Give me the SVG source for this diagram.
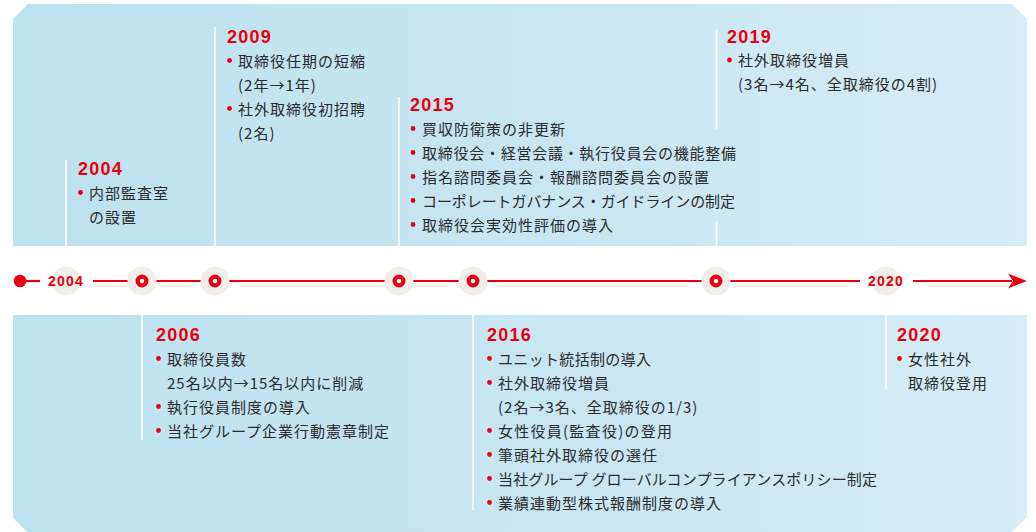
<svg xmlns="http://www.w3.org/2000/svg" width="1036" height="532" viewBox="0 0 1036 532">
<defs>
<linearGradient id="band" x1="0" y1="0" x2="1" y2="0">
<stop offset="0" stop-color="#bce2ee"/>
<stop offset="0.5" stop-color="#c6e6f1"/>
<stop offset="1" stop-color="#d6edf5"/>
</linearGradient>
<style>
.sep{stroke:#ffffff;stroke-width:1.6;fill:none}
.yr{font-family:"Liberation Sans",Arial,sans-serif;font-weight:bold;font-size:18px;fill:#e60012;letter-spacing:1.2px}
.ax{font-family:"Liberation Sans",Arial,sans-serif;font-weight:bold;font-size:14px;fill:#e60012;letter-spacing:1.2px;text-anchor:middle}
.tx{font-family:"Noto Sans CJK JP","Noto Sans CJK SC",sans-serif;font-size:15px;fill:#2b2b2b;letter-spacing:1px}
.bl{fill:#e60012}
.halo{fill:#f2efe9}
.ring{fill:#ffffff;stroke:#e60012;stroke-width:4.2}
.axis{stroke:#e60012;stroke-width:2.2;fill:none}
</style>
</defs>

<!-- bands -->
<path d="M13 19 L28 4 L1012 4 L1027 19 L1027 246 L13 246 Z" fill="url(#band)"/>
<path d="M13 315 L1027 315 L1027 517 L1012 532 L27 532 L13 518 Z" fill="url(#band)"/>

<!-- separators -->
<g id="separators">
<line class="sep" x1="66" y1="160" x2="66" y2="246"/>
<line class="sep" x1="215" y1="27" x2="215" y2="246"/>
<line class="sep" x1="399" y1="97" x2="399" y2="246"/>
<line class="sep" x1="716.5" y1="30" x2="716.5" y2="129"/>
<line class="sep" x1="716.5" y1="222" x2="716.5" y2="246"/>
<line class="sep" x1="142" y1="315" x2="142" y2="440"/>
<line class="sep" x1="473" y1="315" x2="473" y2="510"/>
<line class="sep" x1="886" y1="315" x2="886" y2="389"/>
</g>

<!-- timeline axis -->
<g id="connectors">
<line class="axis" x1="20" y1="281" x2="40" y2="281"/>
<line class="axis" x1="93" y1="281" x2="860" y2="281"/>
<line class="axis" x1="913" y1="281" x2="1012" y2="281"/>
<polygon points="1027,281 1008,273.5 1013,281 1008,288.5" fill="#e60012"/>
</g>

<g id="markers">
<circle class="halo" cx="66" cy="281" r="14.5"/>
<circle class="halo" cx="142" cy="281" r="14.5"/>
<circle class="halo" cx="215" cy="281" r="14.5"/>
<circle class="halo" cx="399" cy="281" r="14.5"/>
<circle class="halo" cx="473" cy="281" r="14.5"/>
<circle class="halo" cx="716" cy="281" r="14.5"/>
<circle class="halo" cx="886" cy="281" r="14.5"/>
<circle cx="20" cy="281" r="6.3" fill="#e60012"/>
<circle class="ring" cx="142" cy="281" r="4.4"/>
<circle class="ring" cx="215" cy="281" r="4.4"/>
<circle class="ring" cx="399" cy="281" r="4.4"/>
<circle class="ring" cx="473" cy="281" r="4.4"/>
<circle class="ring" cx="716" cy="281" r="4.4"/>
<text class="ax" x="66" y="286">2004</text>
<text class="ax" x="886" y="286">2020</text>
</g>

<!-- 2004 -->
<g id="n2004">
<text class="yr" x="78" y="174.5">2004</text>
<circle class="bl" cx="80.5" cy="192.5" r="2.4"/>
<text class="tx" x="89" y="198.5">内部監査室</text>
<text class="tx" x="89" y="222.5">の設置</text>
</g>

<!-- 2009 -->
<g id="n2009">
<text class="yr" x="227" y="42.5">2009</text>
<circle class="bl" cx="229.5" cy="60.5" r="2.4"/>
<text class="tx" x="238" y="66.5">取締役任期の短縮</text>
<text class="tx" x="238" y="90.5">(2年→1年)</text>
<circle class="bl" cx="229.5" cy="108.5" r="2.4"/>
<text class="tx" x="238" y="114.5">社外取締役初招聘</text>
<text class="tx" x="238" y="138.5">(2名)</text>
</g>

<!-- 2015 -->
<g id="n2015">
<text class="yr" x="410" y="110.5">2015</text>
<circle class="bl" cx="413" cy="128.5" r="2.4"/>
<text class="tx" x="422" y="134.5">買収防衛策の非更新</text>
<circle class="bl" cx="413" cy="152.5" r="2.4"/>
<text class="tx" x="422" y="158.5" textLength="315" lengthAdjust="spacing">取締役会・経営会議・執行役員会の機能整備</text>
<circle class="bl" cx="413" cy="176.5" r="2.4"/>
<text class="tx" x="422" y="182.5">指名諮問委員会・報酬諮問委員会の設置</text>
<circle class="bl" cx="413" cy="200.5" r="2.4"/>
<text class="tx" x="422" y="206.5" textLength="314" lengthAdjust="spacing">コーポレートガバナンス・ガイドラインの制定</text>
<circle class="bl" cx="413" cy="224.5" r="2.4"/>
<text class="tx" x="422" y="230.5">取締役会実効性評価の導入</text>
</g>

<!-- 2019 -->
<g id="n2019">
<text class="yr" x="727" y="42.5">2019</text>
<circle class="bl" cx="729.5" cy="60" r="2.4"/>
<text class="tx" x="738" y="66">社外取締役増員</text>
<text class="tx" x="738" y="90">(3名→4名、全取締役の4割)</text>
</g>

<!-- 2006 -->
<g id="n2006">
<text class="yr" x="156" y="340.5">2006</text>
<circle class="bl" cx="158.5" cy="358.5" r="2.4"/>
<text class="tx" x="167" y="364.5">取締役員数</text>
<text class="tx" x="167" y="388.5">25名以内→15名以内に削減</text>
<circle class="bl" cx="158.5" cy="406.5" r="2.4"/>
<text class="tx" x="167" y="412.5">執行役員制度の導入</text>
<circle class="bl" cx="158.5" cy="430.5" r="2.4"/>
<text class="tx" x="167" y="436.5">当社グループ企業行動憲章制定</text>
</g>

<!-- 2016 -->
<g id="n2016">
<text class="yr" x="487" y="340.5">2016</text>
<circle class="bl" cx="489.5" cy="358.5" r="2.4"/>
<text class="tx" x="498" y="364.5" textLength="154" lengthAdjust="spacing">ユニット統括制の導入</text>
<circle class="bl" cx="489.5" cy="382.5" r="2.4"/>
<text class="tx" x="498" y="388.5">社外取締役増員</text>
<text class="tx" x="498" y="412.5">(2名→3名、全取締役の1/3)</text>
<circle class="bl" cx="489.5" cy="430.5" r="2.4"/>
<text class="tx" x="498" y="436.5" textLength="175" lengthAdjust="spacing">女性役員(監査役)の登用</text>
<circle class="bl" cx="489.5" cy="454.5" r="2.4"/>
<text class="tx" x="498" y="460.5">筆頭社外取締役の選任</text>
<circle class="bl" cx="489.5" cy="478.5" r="2.4"/>
<text class="tx" x="498" y="484.5" textLength="380" lengthAdjust="spacing">当社グループ グローバルコンプライアンスポリシー制定</text>
<circle class="bl" cx="489.5" cy="502.5" r="2.4"/>
<text class="tx" x="498" y="508.5">業績連動型株式報酬制度の導入</text>
</g>

<!-- 2020 -->
<g id="n2020">
<text class="yr" x="897" y="340.5">2020</text>
<circle class="bl" cx="899.5" cy="358.5" r="2.4"/>
<text class="tx" x="908" y="364.5">女性社外</text>
<text class="tx" x="908" y="388.5">取締役登用</text>
</g>
</svg>
